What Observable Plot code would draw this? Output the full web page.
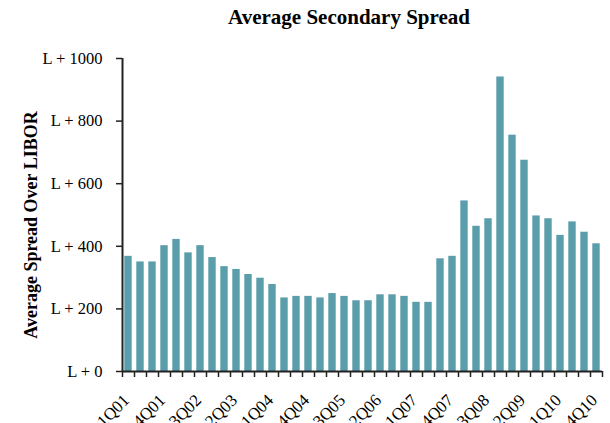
<!DOCTYPE html>
<html>
<head>
<meta charset="utf-8">
<script src="https://cdn.jsdelivr.net/npm/d3@7"></script>
<script src="https://cdn.jsdelivr.net/npm/@observablehq/plot@0.6"></script>
<style>
  html, body { margin: 0; padding: 0; background: #fff; overflow: hidden; }
  #wrap { width: 610px; height: 423px; position: relative; }
  #title { height: 35px; line-height: 35px; text-align: center; font-family: "Liberation Serif", "Times New Roman", serif; font-weight: bold; font-size: 21px; color: #000; padding-left: 88px; box-sizing: border-box; width: 610px; }
</style>
</head>
<body>
<div id="wrap">
  <div id="title">Average Secondary Spread</div>
  <div id="chart"></div>
</div>
<script>
const quarters = [
  "1Q01","2Q01","3Q01","4Q01","1Q02","2Q02","3Q02","4Q02",
  "1Q03","2Q03","3Q03","4Q03","1Q04","2Q04","3Q04","4Q04",
  "1Q05","2Q05","3Q05","4Q05","1Q06","2Q06","3Q06","4Q06",
  "1Q07","2Q07","3Q07","4Q07","1Q08","2Q08","3Q08","4Q08",
  "1Q09","2Q09","3Q09","4Q09","1Q10","2Q10","3Q10","4Q10"
];
const spreads = [
  368, 350, 350, 402, 422, 379, 402, 364,
  335, 326, 310, 298, 278, 235, 240, 240,
  235, 249, 240, 226, 226, 245, 245, 240,
  221, 221, 360, 368, 545, 464, 488, 941,
  755, 675, 497, 488, 435, 478, 445, 408
];
const yTicks = [0, 200, 400, 600, 800, 1000];
const labelEvery = 3;

const data = quarters.map((q, i) => ({q, i, v: spreads[i]}));
const labelled = data.filter(d => d.i % labelEvery === 0);

const font = "'Liberation Serif', 'Times New Roman', serif";

const chart = Plot.plot({
  width: 610,
  height: 388,
  marginTop: 23,
  marginBottom: 52,
  marginLeft: 122,
  marginRight: 8,
  style: {fontFamily: font, fontSize: "16px", color: "#000", background: "#fff"},
  x: {type: "linear", domain: [0, quarters.length], axis: null},
  y: {domain: [0, 1000], axis: null, label: null},
  marks: [
    Plot.rectY(data, {x1: d => d.i, x2: d => d.i + 1, y: "v", insetLeft: 2.3, insetRight: 2.3, fill: "#5a9dab"}),
    Plot.axisY({ticks: yTicks, tickSize: 6, tickPadding: 14, tickFormat: d => "L + " + d, label: null, stroke: "#222", strokeWidth: 1.5, fontSize: 16.5}),
    Plot.axisX({ticks: d3.range(quarters.length + 1), tickSize: 6, tickFormat: () => "", label: null, stroke: "#222", strokeWidth: 1.5}),
    Plot.text(labelled, {x: d => d.i + 0.5, y: 0, text: "q", rotate: -45, textAnchor: "end", dx: -2, dy: 26, fontSize: 17}),
    Plot.ruleX([0], {stroke: "#222", strokeWidth: 2}),
    Plot.ruleY([0], {stroke: "#222", strokeWidth: 2}),
    Plot.text(["Average Spread Over LIBOR"], {frameAnchor: "left", textAnchor: "middle", rotate: -90, dx: -91, dy: 10, fontWeight: "bold", fontSize: 18})
  ]
});
document.getElementById("chart").appendChild(chart);
</script>
</body>
</html>
